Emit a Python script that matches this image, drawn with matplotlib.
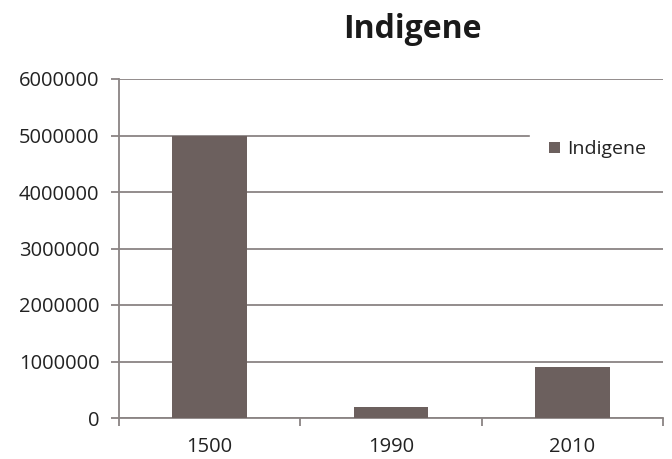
import matplotlib.pyplot as plt
import numpy as np

# dati
anni = ['1500', '1990', '2010']
indigene = [5000000, 200000, 900000]
yticks = [0, 1000000, 2000000, 3000000, 4000000, 5000000, 6000000]

plt.rcParams['font.family'] = ['Open Sans', 'DejaVu Sans']

colore_barre = '#6c605e'
colore_assi = '#8a8483'

fig = plt.figure(figsize=(6.72, 4.59), dpi=100)
ax = fig.add_axes([119/672, 1 - 418/459, 544/672, 339/459])

x = np.arange(len(anni))
barre = ax.bar(x, indigene, width=0.41, color=colore_barre, label='Indigene', zorder=3)

ax.set_xlim(-0.5, len(anni) - 0.5)
ax.set_ylim(0, 6000000)
ax.set_yticks(yticks)
ax.set_yticklabels([str(v) for v in yticks])
ax.yaxis.grid(True, color=colore_assi, linewidth=1.3, zorder=0)

# tacche dell'asse x tra le categorie
ax.set_xticks(np.arange(-0.5, len(anni)), minor=True)
ax.set_xticks(x)
ax.set_xticklabels(anni)
ax.tick_params(axis='x', which='major', length=0, pad=14)
ax.tick_params(axis='x', which='minor', length=6, color=colore_assi, width=1.3)
ax.tick_params(axis='y', length=6, color=colore_assi, width=1.3, pad=8)
ax.tick_params(labelsize=14.5, labelcolor='#222222')

for lato in ['top', 'right']:
    ax.spines[lato].set_visible(False)
for lato in ['left', 'bottom']:
    ax.spines[lato].set_color(colore_assi)
    ax.spines[lato].set_linewidth(1.3)

# legenda con sfondo bianco pieno, copre la griglia
leg = ax.legend(loc='upper left', bbox_to_anchor=(411/544, 1 - 42/339), frameon=True,
                framealpha=1, fontsize=14, handlelength=0.55, handleheight=0.55,
                handletextpad=0.35, borderpad=1.0, borderaxespad=0, fancybox=False)
leg.get_frame().set_facecolor('white')
leg.get_frame().set_edgecolor('white')
leg.set_zorder(5)
for t in leg.get_texts():
    t.set_color('#222222')

fig.text(412/672, 1 - 30/459, 'Indigene', ha='center', va='center',
         fontsize=23, fontweight='bold', color='#1a1a1a')

fig.savefig('out.png', dpi=100)
